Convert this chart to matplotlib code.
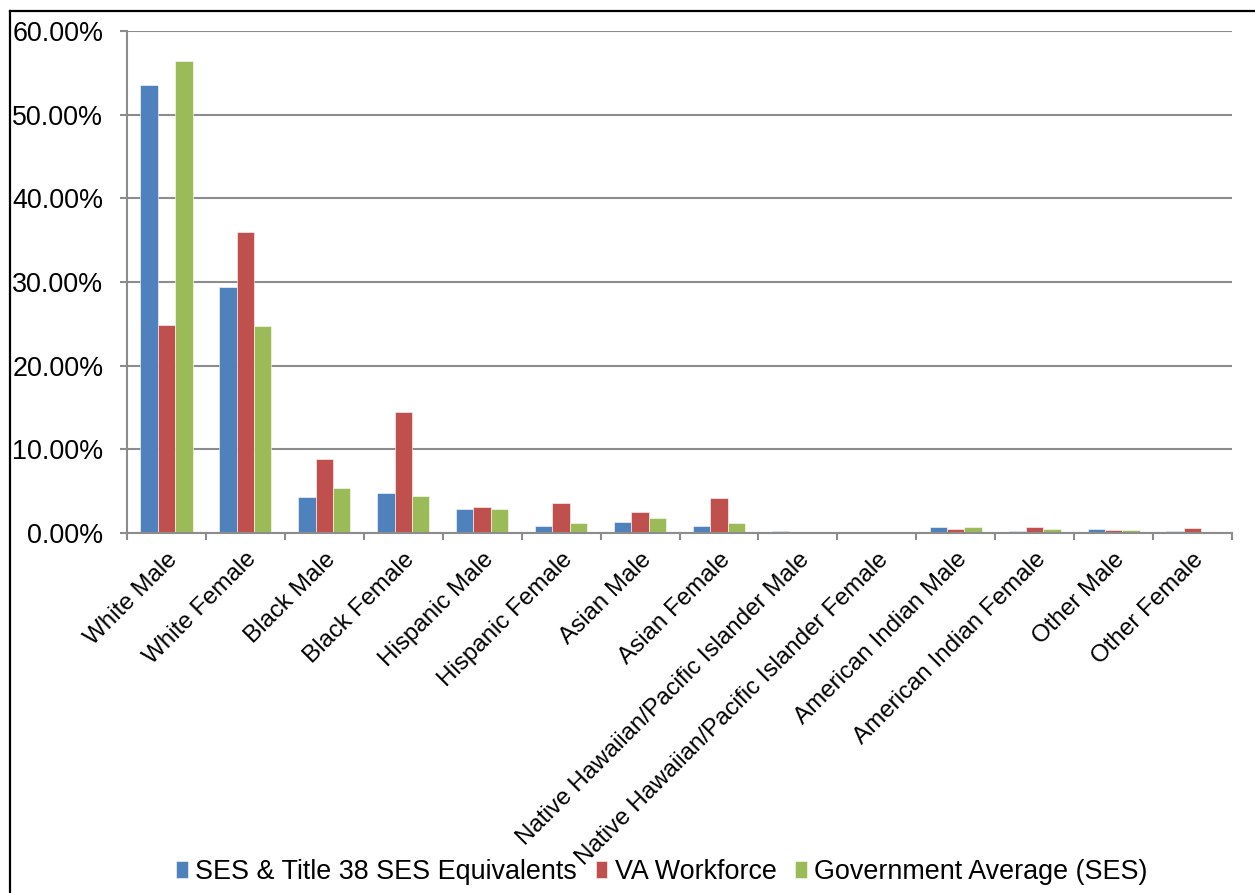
import matplotlib
matplotlib.use("Agg")
import matplotlib.pyplot as plt
import numpy as np
from matplotlib.lines import Line2D
from matplotlib.ticker import FuncFormatter, FixedLocator

categories = ["White Male", "White Female", "Black Male", "Black Female",
              "Hispanic Male", "Hispanic Female", "Asian Male", "Asian Female",
              "Native Hawaiian/Pacific Islander Male",
              "Native Hawaiian/Pacific Islander Female",
              "American Indian Male", "American Indian Female",
              "Other Male", "Other Female"]
ses = [53.6, 29.4, 4.35, 4.8, 2.87, 0.87, 1.3, 0.87, 0.24, 0.0, 0.68, 0.2, 0.44, 0.2]
va = [24.9, 36.0, 8.8, 14.45, 3.1, 3.55, 2.55, 4.15, 0.02, 0.05, 0.44, 0.68, 0.36, 0.56]
gov = [56.4, 24.7, 5.4, 4.46, 2.83, 1.23, 1.79, 1.23, 0.02, 0.0, 0.68, 0.44, 0.36, 0.1]
series_names = ["SES & Title 38 SES Equivalents", "VA Workforce", "Government Average (SES)"]
colors = ["#4F81BD", "#C0504D", "#9BBB59"]

plt.rcParams['font.family'] = ['Liberation Sans', 'DejaVu Sans']
FS = 19.4
FSX = 17.4

W, H = 1255, 893
fig = plt.figure(figsize=(W / 100, H / 100), dpi=100)
ax = fig.add_axes([127 / W, 1 - 533 / H, (1232 - 127) / W, (533 - 31) / H])

x = np.arange(len(categories))
bw = 0.22
for i, (vals, c, name) in enumerate(zip([ses, va, gov], colors, series_names)):
    ax.bar(x + (i - 1) * bw, vals, width=bw, color=c, edgecolor="white",
           linewidth=0.4, label=name, zorder=3)

ax.set_xlim(-0.5, len(categories) - 0.5)
ax.set_ylim(0, 60)
ax.set_yticks(np.arange(0, 61, 10))
ax.yaxis.set_major_formatter(FuncFormatter(lambda v, p: f"{v:.2f}%"))
ax.grid(axis="y", color="#8C8C8C", linewidth=1.5, zorder=0)
ax.set_axisbelow(True)

for s in ["top", "right"]:
    ax.spines[s].set_visible(False)
for s in ["left", "bottom"]:
    ax.spines[s].set_color("#8C8C8C")
    ax.spines[s].set_linewidth(1.5)
ax.spines["bottom"].set_zorder(4)

ax.xaxis.set_major_locator(FixedLocator(np.arange(-0.5, len(categories), 1.0)))
ax.xaxis.set_major_formatter(plt.NullFormatter())
ax.xaxis.set_minor_locator(FixedLocator(x))
ax.set_xticklabels(categories, minor=True)
ax.tick_params(axis="x", which="major", direction="out", length=5, width=1.5, color="#8C8C8C")
ax.tick_params(axis="x", which="minor", length=0, pad=11, labelsize=FSX)
for lab in ax.get_xticklabels(minor=True):
    lab.set_rotation(45)
    lab.set_ha("right")
    lab.set_va("top")
    lab.set_rotation_mode("anchor")
ax.tick_params(axis="y", direction="out", length=5, width=1.5, color="#8C8C8C",
               pad=12, labelsize=FS)

# outer border (left and top)
fig.add_artist(Line2D([10 / W, 10 / W], [0, 1 - 11 / H], transform=fig.transFigure,
                      color="black", linewidth=1.6))
fig.add_artist(Line2D([10 / W, 1], [1 - 11 / H, 1 - 11 / H], transform=fig.transFigure,
                      color="black", linewidth=1.6))

handles, labels = ax.get_legend_handles_labels()
fig.legend(handles, labels, loc="center", bbox_to_anchor=(662 / W, 1 - 872 / H),
           ncol=3, frameon=False, fontsize=FS, handlelength=0.42, handleheight=0.6,
           handletextpad=0.28, columnspacing=0.7, borderaxespad=0, borderpad=0)

fig.savefig("out.png", dpi=100)
